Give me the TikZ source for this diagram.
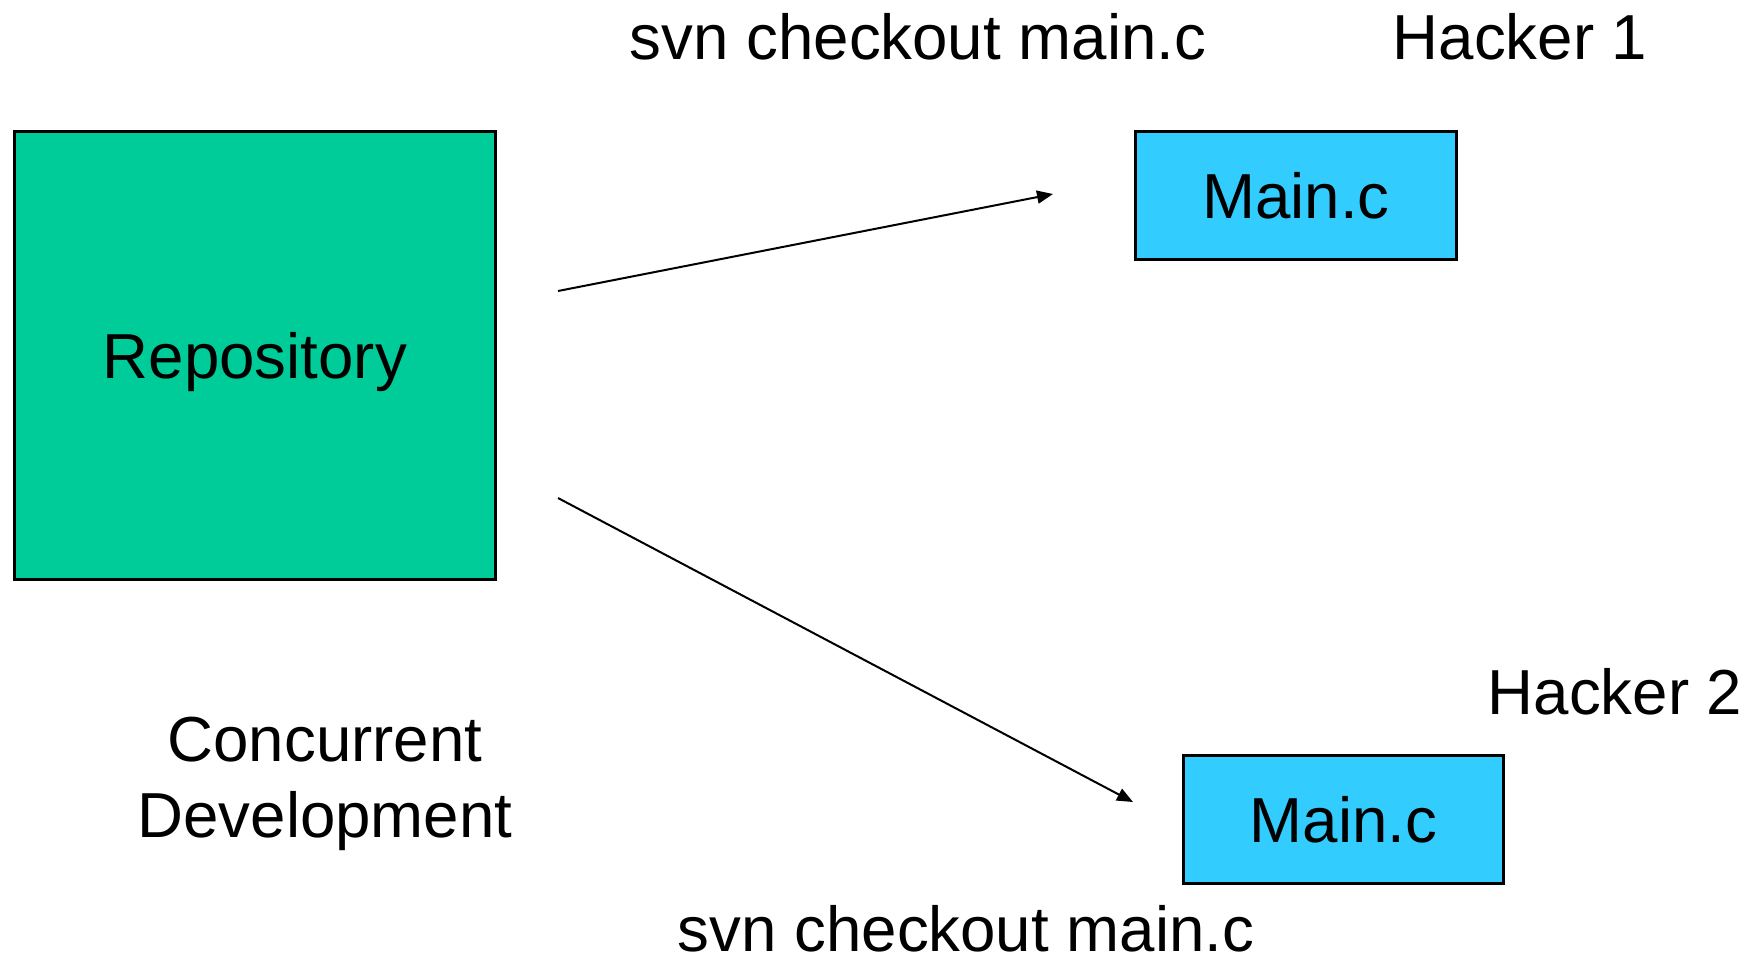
\documentclass[tikz,border=0pt]{standalone}
\usepackage{fontspec}
\setmainfont{Liberation Sans}
\usetikzlibrary{arrows.meta}
\definecolor{repogreen}{HTML}{00CC99}
\definecolor{fileblue}{HTML}{33CCFF}
\begin{document}
\begin{tikzpicture}[x=0.1mm,y=-0.1mm,
  every node/.style={font=\fontsize{18.1}{21.6}\selectfont, inner sep=0pt},
  boxnode/.style={draw=black, line width=0.28mm, text depth=0pt, anchor=north west},
  label/.style={anchor=base},
  conn/.style={line width=0.2mm, -{Triangle[length=1.6mm,width=1.3mm]}}]
\useasboundingbox (0,0) rectangle (1760,960);
\node[boxnode, fill=repogreen, minimum width=48.1mm, minimum height=44.8mm] (repo) at (13,130) {Repository};
\node[boxnode, fill=fileblue, minimum width=32.1mm, minimum height=12.8mm] (file1) at (1134,130) {Main.c};
\node[boxnode, fill=fileblue, minimum width=32.0mm, minimum height=12.8mm] (file2) at (1182,754) {Main.c};
\node[label] (cmd1) at (918,59) {svn checkout main.c};
\node[label] (cmd2) at (966,951) {svn checkout main.c};
\node[label, anchor=base west] (hack1) at (1392,59) {Hacker 1};
\node[label, anchor=base west] (hack2) at (1487,714) {Hacker 2};
\node[label, align=center, anchor=north] (conc) at (325,716) {Concurrent\\Development};
\coordinate (s1) at (558,291);
\coordinate (e1) at (1053,194);
\coordinate (s2) at (558,498);
\coordinate (e2) at (1133,802);
\draw[conn] (s1) -- (e1);
\draw[conn] (s2) -- (e2);
\end{tikzpicture}
\end{document}
